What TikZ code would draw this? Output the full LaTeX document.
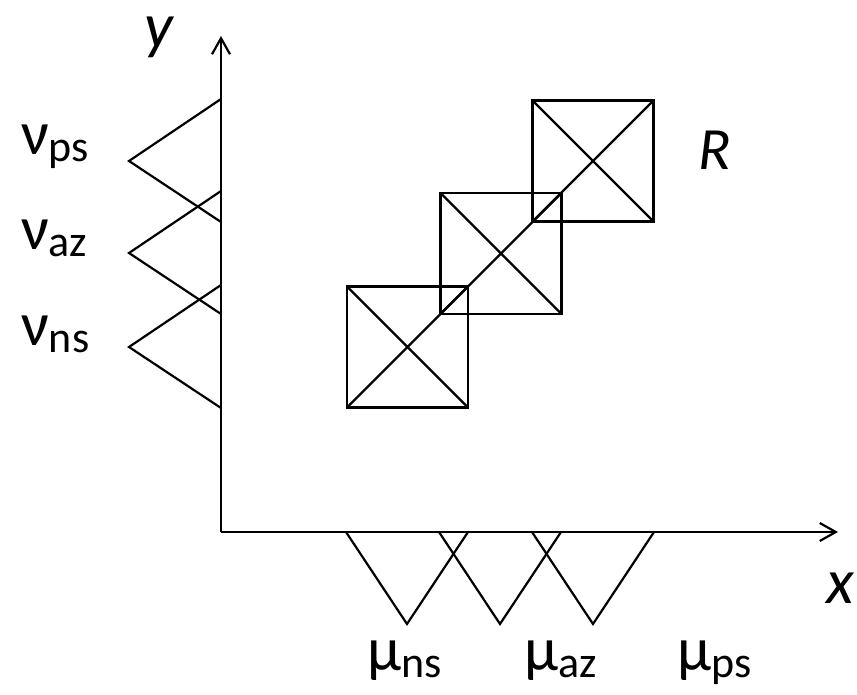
\documentclass[tikz,border=0pt]{standalone}
\usepackage{fontspec}
\setmainfont{Carlito}
\usetikzlibrary{arrows.meta,positioning}

\begin{document}
\begin{tikzpicture}[x=0.5pt,y=-0.5pt,line width=1.1pt,
  lbl/.style={inner sep=0pt,anchor=base west,font=\fontsize{31}{36}\selectfont},
  axlbl/.style={lbl,font=\fontsize{32}{38}\selectfont\itshape},
  sq/.style={draw,minimum size=60.5pt,inner sep=0pt,outer sep=0pt}]
\newcommand{\sub}[1]{\raisebox{-3.5pt}{\fontsize{22}{26}\selectfont #1}}
\useasboundingbox (0,0) rectangle (857,695);
% axes
\coordinate (O) at (221,532);
\coordinate (xend) at (838,532);
\coordinate (yend) at (221,36);
\draw[-{Straight Barb[length=8pt,width=9pt]}] (O) -- (xend);
\draw[-{Straight Barb[length=8pt,width=9pt]}] (O) -- (yend);
\node[axlbl] (xl) at (825,603) {x};
\node[axlbl,text height=15pt] (yl) at (143,48) {y};
% membership triangles
\foreach \c in {161,253,347} \draw (221,\c-62) -- (129,\c) -- (221,\c+61);
\foreach \c in {407,500,593} \draw (\c-61,532) -- (\c,624) -- (\c+61,532);
% squares with diagonals
\foreach \n/\x/\y in {1/407.5/347,2/501/253.5,3/593/161} {
  \node[sq] (s\n) at (\x,\y) {};
  \draw (s\n.north west) -- (s\n.south east);
  \draw (s\n.south west) -- (s\n.north east);
}
\node[axlbl,font=\fontsize{30}{36}\selectfont\itshape] (R) at (697,170) {R};
% labels
\node[lbl] (nups) at (20,155) {ν\sub{ps}};
\node[lbl] (nuaz) at (20,250) {ν\sub{az}};
\node[lbl] (nuns) at (20,345) {ν\sub{ns}};
\node[lbl] (muns) at (366,670) {μ\sub{ns}};
\node[lbl] (muaz) at (523,670) {μ\sub{az}};
\node[lbl] (mups) at (676,670) {μ\sub{ps}};
\end{tikzpicture}
\end{document}
